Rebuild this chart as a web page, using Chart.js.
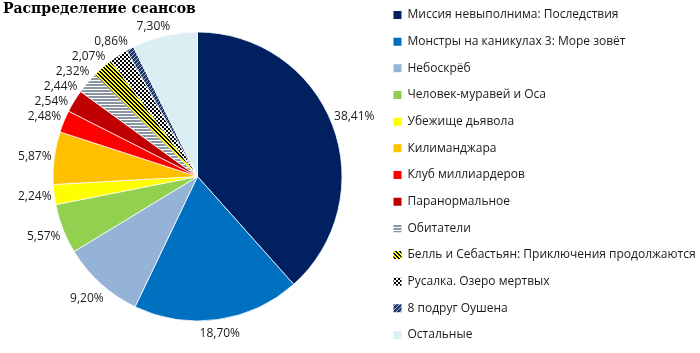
<!DOCTYPE html>
<html><head><meta charset="utf-8">
<script src="https://cdn.jsdelivr.net/npm/chart.js@4/dist/chart.umd.min.js"></script>
<style>html,body{margin:0;padding:0;background:#fff}canvas{display:block}</style>
</head><body>
<canvas id="c" width="700" height="353"></canvas>
<script>
// ---- data ----
const chartTitle = 'Распределение сеансов';
const films = [
  'Миссия невыполнима: Последствия',
  'Монстры на каникулах 3: Море зовёт',
  'Небоскрёб',
  'Человек-муравей и Оса',
  'Убежище дьявола',
  'Килиманджара',
  'Клуб миллиардеров',
  'Паранормальное',
  'Обитатели',
  'Белль и Себастьян: Приключения продолжаются',
  'Русалка. Озеро мертвых',
  '8 подруг Оушена',
  'Остальные'
];
const shares = [38.41, 18.70, 9.20, 5.57, 2.24, 5.87, 2.48, 2.54, 2.44, 2.32, 2.07, 0.86, 7.30];

// ---- styles ----
const canvas = document.getElementById('c');
const mainCtx = canvas.getContext('2d');
function makePattern(w, h, draw) {
  const c = document.createElement('canvas');
  c.width = w; c.height = h;
  const x = c.getContext('2d');
  draw(x);
  return mainCtx.createPattern(c, 'repeat');
}
const stripesGray = makePattern(1, 3, x => {
  x.fillStyle = '#ffffff'; x.fillRect(0, 0, 1, 3);
  x.fillStyle = '#8a94a3'; x.fillRect(0, 0, 1, 2);
});
const stripesYellow = makePattern(4, 4, x => {
  x.fillStyle = '#ffff00'; x.fillRect(0, 0, 4, 4);
  x.fillStyle = '#000000';
  for (let i = 0; i < 4; i++) { x.fillRect(i, i, 1, 1); x.fillRect((i + 1) % 4, i, 1, 1); }
});
const checkerBlack = makePattern(4, 4, x => {
  x.fillStyle = '#ffffff'; x.fillRect(0, 0, 4, 4);
  x.fillStyle = '#000000'; x.fillRect(0, 0, 2, 2); x.fillRect(2, 2, 2, 2);
});
const diagNavy = makePattern(4, 4, x => {
  x.fillStyle = '#1f3864'; x.fillRect(0, 0, 4, 4);
  x.fillStyle = '#9fb4d8';
  for (let i = 0; i < 4; i++) { x.fillRect(3 - i, i, 1, 1); }
});
const sliceColors = ['#002060', '#0070C0', '#95B3D7', '#92D050', '#FFFF00', '#FFC000', '#FF0000', '#C00000',
  stripesGray, stripesYellow, checkerBlack, diagNavy, '#DAEEF3'];

const fontFamily = '"Open Sans", "Noto Sans", sans-serif';
const legendFontSize = 12;
const mctx = document.createElement('canvas').getContext('2d');
mctx.font = legendFontSize + 'px ' + fontFamily;
const longest = Math.max(...films.map(t => mctx.measureText(t).width));

const fmt = v => v.toFixed(2).replace('.', ',') + '%';

const titlePlugin = {
  id: 'plainTitle',
  afterDraw(chart) {
    const ctx = chart.ctx;
    ctx.save();
    ctx.font = 'bold 14px "DejaVu Serif", serif';
    ctx.fillStyle = '#000';
    ctx.textAlign = 'left';
    ctx.textBaseline = 'middle';
    ctx.fillText(chartTitle, 3, 9);
    ctx.restore();
  }
};

const labelPlugin = {
  id: 'pctLabels',
  afterDatasetsDraw(chart) {
    const ctx = chart.ctx;
    const meta = chart.getDatasetMeta(0);
    ctx.save();
    ctx.font = '12px ' + fontFamily;
    ctx.fillStyle = '#1a1a1a';
    ctx.textAlign = 'center';
    ctx.textBaseline = 'middle';
    const h = 12;
    let cx = 0, cy = 0;
    const items = meta.data.map((arc, i) => {
      const p = arc.getProps(['x', 'y', 'startAngle', 'endAngle', 'outerRadius'], true);
      cx = p.x; cy = p.y;
      const mid = (p.startAngle + p.endAngle) / 2;
      const dx = Math.cos(mid), dy = Math.sin(mid);
      const g = 2 + 5 * Math.pow(Math.max(dy, 0), 2);
      const R = p.outerRadius + g;
      const text = fmt(shares[i]);
      const w = ctx.measureText(text).width;
      let d = p.outerRadius;
      for (; d < p.outerRadius + 80; d += 0.25) {
        const ex = Math.max(0, Math.abs(d * dx) - w / 2);
        const ey = Math.max(0, Math.abs(d * dy) - h / 2);
        if (Math.hypot(ex, ey) >= R) break;
      }
      const it = { text, x: p.x + dx * d, y: p.y + dy * d, w, R, left: dx < 0 };
      if (dx < 0 && dy < 0) it.y += 1.5;
      return it;
    });
    const left = items.filter(it => it.left).sort((a, b) => a.y - b.y);
    const placed = [];
    left.forEach(it => {
      let moved = false;
      placed.forEach(q => {
        if (Math.abs(it.x - q.x) < (it.w + q.w) / 2 + 2 && it.y - q.y < 15) { it.y = q.y + 15; moved = true; }
      });
      const vy = cy - (it.y + h / 2);
      if (vy > 0 && vy < it.R) {
        const maxX = cx - Math.sqrt(it.R * it.R - vy * vy) - it.w / 2;
        if (moved || it.x > maxX) it.x = Math.min(it.x, maxX);
      }
      placed.push(it);
    });
    items.forEach(it => ctx.fillText(it.text, it.x, it.y));
    ctx.restore();
  }
};

const legendPad = 14.67;
const legendLeft = 378.83;
const centerX = 197.5;

new Chart(canvas, {
  type: 'doughnut',
  data: {
    labels: films,
    datasets: [{
      data: shares,
      backgroundColor: sliceColors,
      borderColor: '#ffffff',
      borderWidth: 0.75
    }]
  },
  options: {
    responsive: false,
    animation: false,
    events: [],
    cutout: 0,
    radius: 144.5,
    layout: {
      padding: {
        top: -5.67,
        bottom: -8.67,
        left: 2 * centerX - legendLeft,
        right: 700 - legendLeft - (legendPad + 8 + legendFontSize / 2 + longest + 10)
      }
    },
    plugins: {
      title: { display: false },
      tooltip: { enabled: false },
      legend: {
        display: true,
        position: 'right',
        align: 'start',
        labels: {
          boxWidth: 8,
          boxHeight: 8,
          padding: legendPad,
          color: '#1a1a1a',
          font: { family: fontFamily, size: legendFontSize },
          generateLabels(chart) {
            return Chart.overrides.doughnut.plugins.legend.labels.generateLabels(chart)
              .map(l => Object.assign(l, { lineWidth: 0 }));
          }
        }
      }
    }
  },
  plugins: [labelPlugin, titlePlugin]
});
</script>
</body></html>
